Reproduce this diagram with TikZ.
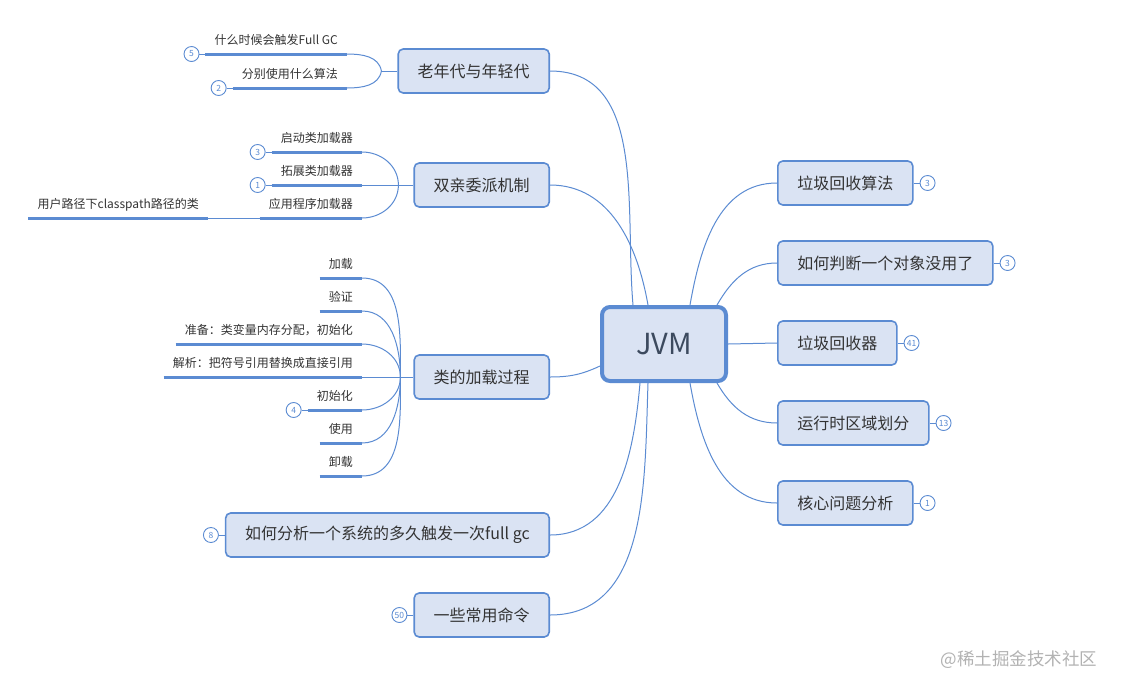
\documentclass[tikz,border=0pt]{standalone}
\usepackage{fontspec}
\setmainfont{Noto Sans CJK SC}
\usetikzlibrary{positioning}
\definecolor{jvmblue}{HTML}{5B8BD2}
\definecolor{topicfill}{HTML}{DAE3F3}
\definecolor{inkgray}{HTML}{333333}
\definecolor{jvmink}{HTML}{3C4A5E}
\tikzset{
    topic/.style={draw=jvmblue, fill=topicfill, rounded corners=5pt, line width=1.6pt,
        minimum height=44pt, inner xsep=19.5pt, text=inkgray, font=\fontsize{16}{19}\selectfont},
    leaf/.style={inner xsep=9pt, inner ysep=7pt, text height=9pt, text depth=2pt, text=inkgray,
        font=\fontsize{12}{14}\selectfont,
        append after command={(\tikzlastnode.south west) edge[leafline] (\tikzlastnode.south east)}},
    leafline/.style={draw=jvmblue, line width=3pt},
    branch/.style={draw=jvmblue, line width=1pt},
    badge/.style={circle, draw=jvmblue, fill=white, line width=0.9pt, inner sep=0pt,
        minimum size=15pt, text=jvmblue, font=\fontsize{8.5}{9}\selectfont},
}
\begin{document}
\begin{tikzpicture}[x=1pt, y=1pt]
    \useasboundingbox (0,-691) rectangle (1121,0);

    \draw (664,-344) node[draw=jvmblue, fill=topicfill, rounded corners=8pt, line width=4pt,
        minimum width=124pt, minimum height=74pt, text=jvmink, font=\fontsize{29}{32}\selectfont] (jvm) {JVM};

    % main topics, left
    \draw (550,-71) node[topic, anchor=east] (old) {老年代与年轻代};
    \draw (550,-185) node[topic, anchor=east] (par) {双亲委派机制};
    \draw (550,-377) node[topic, anchor=east] (cls) {类的加载过程};
    \draw (550,-535) node[topic, anchor=east] (ana) {如何分析一个系统的多久触发一次full gc};
    \draw (550,-615) node[topic, anchor=east] (cmd) {一些常用命令};

    % main topics, right
    \draw (777,-183) node[topic, anchor=west] (gca) {垃圾回收算法};
    \draw (777,-263) node[topic, anchor=west] (judge) {如何判断一个对象没用了};
    \draw (777,-343) node[topic, anchor=west] (gcr) {垃圾回收器};
    \draw (777,-423) node[topic, anchor=west] (area) {运行时区域划分};
    \draw (777,-503) node[topic, anchor=west] (core) {核心问题分析};

    \draw[branch] ([xshift=-31pt]jvm.north) to[out=95, in=0] (old.east);
    \draw[branch] ([xshift=-16pt]jvm.north) to[out=100, in=0] (par.east);
    \draw[branch] ([yshift=-22pt]jvm.west) to[out=205, in=0] (cls.east);
    \draw[branch] ([xshift=-24pt]jvm.south) to[out=-95, in=0] (ana.east);
    \draw[branch] ([xshift=-16pt]jvm.south) to[out=-92, in=0] (cmd.east);
    \draw[branch] ([xshift=26pt]jvm.north) to[out=80, in=180] (gca.west);
    \draw[branch] ([xshift=53pt]jvm.north) to[out=60, in=180] (judge.west);
    \draw[branch] (jvm.east) -- (gcr.west);
    \draw[branch] ([xshift=53pt]jvm.south) to[out=-60, in=180] (area.west);
    \draw[branch] ([xshift=26pt]jvm.south) to[out=-80, in=180] (core.west);

    % badges on main topics
    \draw node[badge, right=6pt of gca] (ngca) {3};
    \draw node[badge, right=6pt of judge] (njudge) {3};
    \draw node[badge, right=6pt of gcr] (ngcr) {41};
    \draw node[badge, right=6pt of area] (narea) {13};
    \draw node[badge, right=6pt of core] (ncore) {1};
    \draw node[badge, left=6pt of ana] (nana) {8};
    \draw node[badge, left=6pt of cmd] (ncmd) {50};
    \draw[branch] (gca) -- (ngca);
    \draw[branch] (judge) -- (njudge);
    \draw[branch] (gcr) -- (ngcr);
    \draw[branch] (area) -- (narea);
    \draw[branch] (core) -- (ncore);
    \draw[branch] (ana) -- (nana);
    \draw[branch] (cmd) -- (ncmd);

    % 老年代与年轻代
    \coordinate[left=16pt of old.west] (jold);
    \draw[branch] (old.west) -- (jold);
    \draw (347,-54) node[leaf, anchor=south east] (old1) {什么时候会触发Full GC};
    \draw (347,-88) node[leaf, anchor=south east] (old2) {分别使用什么算法};
    \draw[branch] (old1.south east) to[out=0, in=100] (jold);
    \draw[branch] (old2.south east) to[out=0, in=-100] (jold);
    \draw node[badge, left=6pt of old1.south west] (nold1) {5};
    \draw node[badge, left=6pt of old2.south west] (nold2) {2};
    \draw[branch] (nold1) -- (old1.south west);
    \draw[branch] (nold2) -- (old2.south west);

    % 双亲委派机制
    \coordinate[left=15pt of par.west] (jpar);
    \draw[branch] (par.west) -- (jpar);
    \draw (362,-152) node[leaf, anchor=south east] (par1) {启动类加载器};
    \draw (362,-185) node[leaf, anchor=south east] (par2) {拓展类加载器};
    \draw (362,-218) node[leaf, anchor=south east] (par3) {应用程序加载器};
    \draw (208,-218) node[leaf, anchor=south east] (par4) {用户路径下classpath路径的类};
    \draw[branch] (par1.south east) to[out=0, in=90] (jpar);
    \draw[branch] (par2.south east) -- (jpar);
    \draw[branch] (par3.south east) to[out=0, in=-90] (jpar);
    \draw[branch] (par4.south east) -- (par3.south west);
    \draw node[badge, left=6pt of par1.south west] (npar1) {3};
    \draw node[badge, left=6pt of par2.south west] (npar2) {1};
    \draw[branch] (npar1) -- (par1.south west);
    \draw[branch] (npar2) -- (par2.south west);

    % 类的加载过程
    \coordinate[left=13pt of cls.west] (jcls);
    \draw[branch] (cls.west) -- (jcls);
    \draw (362,-278) node[leaf, anchor=south east] (cls1) {加载};
    \draw (362,-311) node[leaf, anchor=south east] (cls2) {验证};
    \draw (362,-344) node[leaf, anchor=south east] (cls3) {准备：类变量内存分配，初始化};
    \draw (362,-377) node[leaf, anchor=south east] (cls4) {解析：把符号引用替换成直接引用};
    \draw (362,-410) node[leaf, anchor=south east] (cls5) {初始化};
    \draw (362,-443) node[leaf, anchor=south east] (cls6) {使用};
    \draw (362,-476) node[leaf, anchor=south east] (cls7) {卸载};
    \draw[branch] (cls1.south east) to[out=0, in=90] (jcls);
    \draw[branch] (cls2.south east) to[out=0, in=90] (jcls);
    \draw[branch] (cls3.south east) to[out=0, in=90] (jcls);
    \draw[branch] (cls4.south east) -- (jcls);
    \draw[branch] (cls5.south east) to[out=0, in=-90] (jcls);
    \draw[branch] (cls6.south east) to[out=0, in=-90] (jcls);
    \draw[branch] (cls7.south east) to[out=0, in=-90] (jcls);
    \draw node[badge, left=6pt of cls5.south west] (ncls5) {4};
    \draw[branch] (ncls5) -- (cls5.south west);

    \draw (1019,-660) node[text=black!30, font=\fontsize{17.5}{20}\selectfont] (mark) {@稀土掘金技术社区};
\end{tikzpicture}
\end{document}
